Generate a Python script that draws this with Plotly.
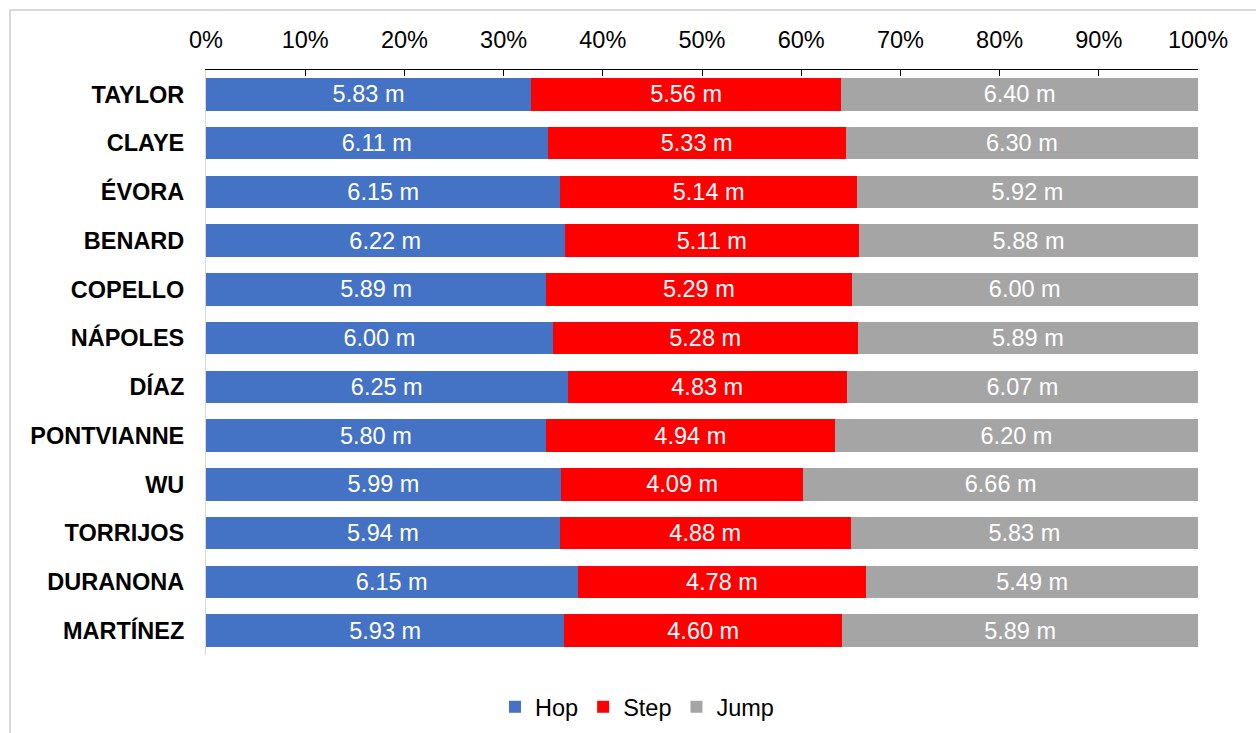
import plotly.graph_objects as go

athletes = ["TAYLOR", "CLAYE", "ÉVORA", "BENARD", "COPELLO", "NÁPOLES", "DÍAZ",
            "PONTVIANNE", "WU", "TORRIJOS", "DURANONA", "MARTÍNEZ"]
hop = [5.83, 6.11, 6.15, 6.22, 5.89, 6.00, 6.25, 5.80, 5.99, 5.94, 6.15, 5.93]
step = [5.56, 5.33, 5.14, 5.11, 5.29, 5.28, 4.83, 4.94, 4.09, 4.88, 4.78, 4.60]
jump = [6.40, 6.30, 5.92, 5.88, 6.00, 5.89, 6.07, 6.20, 6.66, 5.83, 5.49, 5.89]
tick_vals = [0, 10, 20, 30, 40, 50, 60, 70, 80, 90, 100]
tick_text = [f"{v}%" for v in tick_vals]

series = [("Hop", hop, "#4472C4"), ("Step", step, "#FF0000"), ("Jump", jump, "#A5A5A5")]

FONT = "Liberation Sans, Arial, sans-serif"
FS = 23.5

fig = go.Figure()
for name, vals, color in series:
    fig.add_trace(go.Bar(
        name=name, y=athletes, x=vals, orientation="h",
        marker=dict(color=color, line=dict(width=0)),
        text=[f"{v:.2f} m" for v in vals],
        textposition="inside", insidetextanchor="middle",
        textfont=dict(color="white", size=FS, family=FONT),
        constraintext="none",
        hoverinfo="skip",
    ))

W, H = 1256, 733
L, R, T, B = 206, 58, 70, 78
pw, ph = W - L - R, H - T - B

def px_x(p):
    return (p - L) / pw

def px_y(p):
    return (H - B - p) / ph

fig.update_layout(
    width=W, height=H,
    barmode="stack", barnorm="percent", bargap=0.33,
    margin=dict(l=L, r=R, t=T, b=B, autoexpand=False),
    paper_bgcolor="white", plot_bgcolor="white",
    font=dict(family=FONT, size=FS, color="black"),
    xaxis=dict(side="top", range=[0, 100], tickmode="array", tickvals=tick_vals,
               ticktext=tick_text,
               showgrid=False, zeroline=False, showline=True, linecolor="black",
               linewidth=1, ticks="inside", ticklen=6, tickcolor="black",
               ticklabelstandoff=12,
               tickfont=dict(size=FS, family=FONT)),
    yaxis=dict(autorange="reversed", showgrid=False, showline=True,
               linecolor="#D9D9D9", linewidth=1, ticks="",
               ticklabelstandoff=16,
               tickfont=dict(size=FS, family=FONT, weight="bold")),
    legend=dict(orientation="h", x=px_x(637), xanchor="center", y=px_y(707),
                yanchor="middle", font=dict(size=FS), itemwidth=30,
                traceorder="normal", itemclick=False),
    shapes=[dict(type="rect", xref="paper", yref="paper",
                 x0=px_x(10), x1=px_x(1270), y0=px_y(745), y1=px_y(10),
                 line=dict(color="#D9D9D9", width=2), fillcolor="rgba(0,0,0,0)",
                 layer="below")],
)

fig.write_html("out.html")
